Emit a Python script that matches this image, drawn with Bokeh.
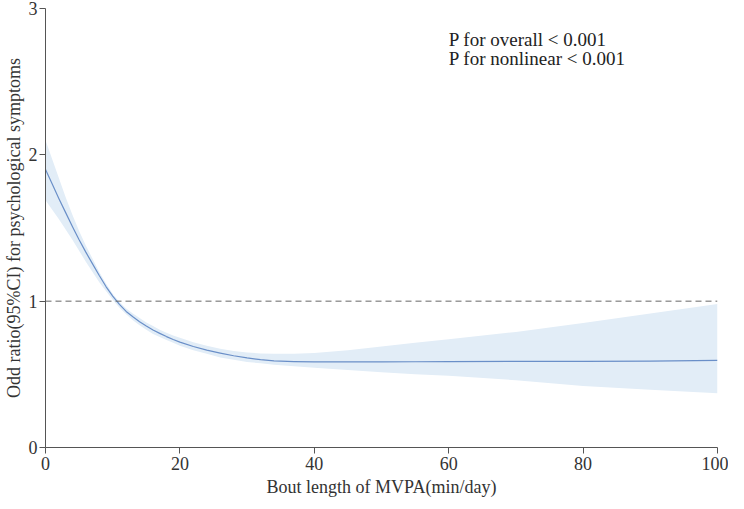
from bokeh.plotting import figure
from bokeh.models import Range1d, Span, ColumnDataSource, FixedTicker
from bokeh.core.properties import value
from bokeh.embed import file_html
from bokeh.resources import INLINE

# ---- data ----
bout_length = [0, 1, 2, 3, 4, 5, 6, 7, 8, 9, 10, 11, 12, 13, 14, 15, 16, 17, 18, 19, 20,
               22, 24, 26, 28, 30, 32, 34, 37, 40, 45, 50, 55, 60, 70, 80, 90, 100]
odds_ratio = [1.90, 1.80, 1.70, 1.605, 1.51, 1.42, 1.335, 1.255, 1.175, 1.10, 1.035, 0.978, 0.93, 0.893,
              0.86, 0.83, 0.803, 0.78, 0.758, 0.738, 0.72,
              0.69, 0.665, 0.645, 0.627, 0.612, 0.6, 0.592, 0.587, 0.585, 0.585, 0.585, 0.586, 0.587,
              0.588, 0.589, 0.59, 0.595]
ci_upper = [2.10, 1.97, 1.84, 1.71, 1.59, 1.48, 1.38, 1.29, 1.20, 1.12, 1.05, 0.995, 0.95, 0.915,
            0.885, 0.855, 0.83, 0.805, 0.785, 0.765, 0.75,
            0.72, 0.695, 0.675, 0.66, 0.65, 0.643, 0.64, 0.641, 0.645, 0.665, 0.69, 0.715, 0.74,
            0.79, 0.85, 0.915, 0.98]
ci_lower = [1.69, 1.625, 1.56, 1.49, 1.42, 1.345, 1.27, 1.20, 1.13, 1.07, 1.01, 0.955, 0.91, 0.87,
            0.835, 0.805, 0.775, 0.755, 0.735, 0.715, 0.695,
            0.665, 0.64, 0.615, 0.60, 0.585, 0.575, 0.565, 0.555, 0.545, 0.53, 0.515, 0.50, 0.49,
            0.46, 0.42, 0.395, 0.37]
reference_or = 1
x_ticks = [0, 20, 40, 60, 80, 100]
y_ticks = [0, 1, 2, 3]
p_texts = ["P for overall < 0.001", "P for nonlinear < 0.001"]

FONT = "Liberation Serif"

p = figure(width=728, height=499, output_backend="svg", toolbar_location=None,
           x_range=Range1d(0, 100), y_range=Range1d(0, 3),
           min_border_left=38, min_border_right=11, min_border_top=8, min_border_bottom=50)
p.outline_line_color = None
p.xgrid.visible = False
p.ygrid.visible = False
p.background_fill_color = "white"
p.border_fill_color = "white"

src = ColumnDataSource(dict(x=bout_length, y=odds_ratio, lo=ci_lower, hi=ci_upper))
p.varea(x="x", y1="lo", y2="hi", source=src, fill_color="#e2edf7", fill_alpha=1.0)
p.line(x="x", y="y", source=src, line_color="#6a8fc8", line_width=1.2, line_join="round")

p.add_layout(Span(location=reference_or, dimension="width", line_color="#666666",
                  line_dash="6 4", line_width=1))

tsrc = ColumnDataSource(dict(x=[60, 60], y=[2.79, 2.655], t=p_texts))
p.text(x="x", y="y", text="t", source=tsrc, text_font=value(FONT), text_font_size="19px",
       text_color="#222222", text_baseline="middle", text_align="left")

for ax in (p.xaxis[0], p.yaxis[0]):
    ax.axis_line_color = "#555555"
    ax.major_tick_line_color = "#555555"
    ax.minor_tick_line_color = None
    ax.major_tick_out = 6
    ax.major_tick_in = 0
    ax.major_label_text_font = FONT
    ax.major_label_text_font_size = "18px"
    ax.major_label_text_color = "#333333"
    ax.axis_label_text_font = FONT
    ax.axis_label_text_font_size = "18px"
    ax.axis_label_text_font_style = "normal"
    ax.axis_label_text_color = "#333333"

p.xaxis.ticker = FixedTicker(ticks=x_ticks)
p.yaxis.ticker = FixedTicker(ticks=y_ticks)
p.xaxis.axis_label = "Bout length of MVPA(min/day)"
p.yaxis.axis_label = "Odd ratio(95%CI) for psychological symptoms"
p.xaxis.major_label_standoff = 3
p.xaxis.axis_label_standoff = 4
p.yaxis.major_label_standoff = 2
p.yaxis.axis_label_standoff = 2

open("out.html", "w").write(file_html(p, INLINE))
